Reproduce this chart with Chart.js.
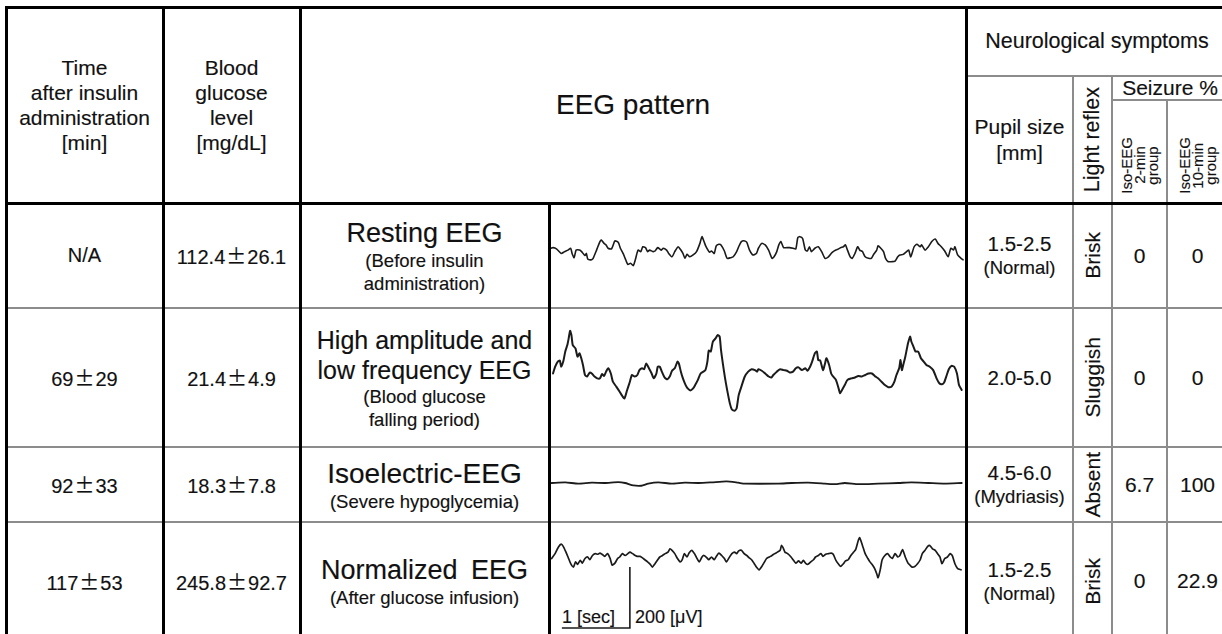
<!DOCTYPE html>
<html>
<head>
<meta charset="utf-8">
<script src="https://cdn.jsdelivr.net/npm/chart.js@4.4.1/dist/chart.umd.min.js"></script>
<style>
  body { margin: 0; width: 1222px; height: 634px; overflow: hidden; position: relative; background: #fff;
         font-family: "Liberation Sans", Arial, sans-serif; color: #111; -webkit-text-stroke: 0.15px #111; }
  .c { position: absolute; display: flex; flex-direction: column; align-items: center; justify-content: center;
       text-align: center; white-space: nowrap; }
  .ln { position: absolute; }
  .v { writing-mode: vertical-rl; transform: rotate(180deg); }
  .pm { font-family: "Noto Sans CJK JP", sans-serif; margin: 0 1px; }
  canvas { position: absolute; }
</style>
</head>
<body>
<script>
// table values
const timeAfter = ['N/A', '69±29', '92±33', '117±53'];
const glucose = ['112.4±26.1', '21.4±4.9', '18.3±7.8', '245.8±92.7'];
const eegTitles = [['Resting EEG'], ['High amplitude and', 'low frequency EEG'], ['Isoelectric-EEG'], ['Normalized EEG']];
const eegNotes = [['(Before insulin', 'administration)'], ['(Blood glucose', 'falling period)'], ['(Severe hypoglycemia)'], ['(After glucose infusion)']];
const pupilSize = ['1.5-2.5', '2.0-5.0', '4.5-6.0', '1.5-2.5'];
const pupilNote = ['(Normal)', '', '(Mydriasis)', '(Normal)'];
const lightReflex = ['Brisk', 'Sluggish', 'Absent', 'Brisk'];
const seizure2min = ['0', '0', '6.7', '0'];
const seizure10min = ['0', '0', '100', '22.9'];

// EEG traces: time [sec], amplitude [uV]
const restingT = [
  0.00,0.03,0.08,0.15,0.20,0.25,0.29,0.31,0.34,0.37, 0.42,0.45,0.50,0.52,0.54,0.59,0.62,0.67,0.72,0.74,
  0.78,0.81,0.84,0.89,0.94,0.99,1.02,1.06,1.09,1.13, 1.17,1.21,1.24,1.28,1.32,1.35,1.39,1.42,1.45,1.50,
  1.53,1.57,1.62,1.65,1.70,1.73,1.78,1.82,1.87,1.91, 1.94,1.97,2.00,2.04,2.09,2.14,2.19,2.22,2.25,2.28,
  2.33,2.36,2.40,2.43,2.47,2.50,2.55,2.59,2.64,2.68, 2.73,2.76,2.80,2.85,2.88,2.92,2.97,3.02,
  3.05,3.10,3.15,3.20,3.25,3.28,3.32,3.35,3.38,3.42, 3.47,3.51,3.56,3.60,3.63,3.66,3.70,3.74,3.77,3.80,
  3.83,3.88,3.93,3.98,4.03,4.08,4.12,4.15,4.19,4.23, 4.26,4.30,4.33,4.36,4.40,4.43,4.47,4.51,4.54,4.58,
  4.62,4.67,4.71,4.74,4.79,4.81,4.85,4.89,4.92,4.96, 5.01,5.06,5.10,5.13,5.18,5.23,5.26,5.29,5.34,5.38,
  5.43,5.45,5.50,5.55,5.60,5.65,5.69,5.74,5.79,5.84, 5.88,5.92,5.94,5.98,6.03,6.06
];
const restingUv = [
  9,11,7,-8,-2,3,9,-8,-22,3, 3,-2,-15,-8,-26,-29,-24,3,31,36,
  25,20,9,7,33,28,9,-8,-24,-44, -40,-48,-29,3,-2,14,11,-2,3,-2,
  0,11,3,9,3,-8,-19,-2,14,3, -8,-24,-11,-19,-13,-2,25,47,31,14,
  -4,0,-8,17,22,20,0,-24,-22,-19, -2,14,31,33,28,3,-13,-8,
  9,25,20,3,-24,-19,-2,20,31,11, 11,11,9,7,44,47,41,3,0,14,
  -2,9,14,-2,-24,-19,-8,-2,3,7, 11,14,20,3,-19,-24,-8,14,3,-2,
  -19,-24,-24,-13,3,17,9,-2,-24,-35, -35,-33,-19,-13,-11,-2,3,-19,14,22,
  14,20,3,14,31,39,25,14,0,-19, 9,3,14,-13,-24,-29
];

const fallingT = [
  0.03,0.06,0.10,0.13,0.15,0.18,0.21,0.24,0.26,0.28, 0.30,0.32,0.36,0.39,0.42,0.45,0.47,0.50,0.53,0.57,
  0.60,0.64,0.68,0.72,0.75,0.78,0.81,0.84,0.88,0.91, 0.96,1.01,1.04,1.08,1.12,1.16,1.19,1.23,1.27,1.30,
  1.34,1.37,1.40,1.44,1.48,1.51,1.55,1.57,1.60,1.63, 1.67,1.71,1.75,1.78,1.82,1.86,1.88,1.91,1.94,1.98,
  2.01,2.05,2.09,2.12,2.16,2.20,2.24,2.27,2.30,2.32, 2.35,2.38,2.42,2.45,2.48,2.50,2.53,2.56,2.59,2.63,
  2.66,2.70,2.73,2.76,2.80,2.85,2.90,2.95,3.00,3.03,
  3.05,3.10,3.15,3.20,3.24,3.27,3.32,3.37,3.42,3.47, 3.51,3.56,3.60,3.64,3.69,3.74,3.77,3.81,3.84,3.88,
  3.91,3.93,3.96,4.00,4.03,4.05,4.09,4.12,4.15,4.19, 4.23,4.25,4.28,4.32,4.36,4.42,4.47,4.52,4.57,4.62,
  4.67,4.72,4.76,4.81,4.86,4.91,4.96,5.01,5.05,5.08, 5.12,5.14,5.16,5.18,5.21,5.23,5.25,5.28,5.30,5.33,
  5.36,5.40,5.44,5.48,5.52,5.57,5.62,5.67,5.71,5.75, 5.78,5.82,5.85,5.89,5.93,5.97,6.00,6.04
];
const fallingUv = [
  5,27,44,47,27,44,77,98,120,145, 131,98,87,60,71,51,33,0,-5,8,
  5,-5,-11,-11,3,-3,11,22,5,-22, -38,-55,-66,-77,-49,-22,0,-5,0,16,
  22,19,38,22,5,-11,5,27,27,11, -8,-14,-3,14,22,44,38,11,-11,-33,
  -44,-51,-44,-33,-16,5,11,16,44,80, 77,109,120,131,126,82,33,-11,-49,-93,
  -113,-117,-109,-66,-38,-5,11,19,16,11,
  19,14,5,-5,-8,0,11,19,16,14, 8,11,22,25,16,22,14,27,44,71,
  77,49,47,16,38,55,33,5,-5,-16, -44,-60,-49,-33,-16,-11,-8,-3,-5,0,
  5,5,-3,-11,-22,-33,-40,-38,-22,0, 22,49,16,33,60,82,104,126,109,93,
  77,77,55,44,33,27,16,-11,-27,-30, -25,0,19,30,27,5,-33,-49
];

const isoT = [0.01,0.21,0.40,0.60,0.79,0.99,1.09,1.21,1.33,1.43,1.58,1.77,1.97,2.17,2.36,2.58,
  2.75,2.85,3.34,3.54,3.78,4.03,4.18,4.32,4.52,4.81,5.11,5.30,5.55,5.79,6.04];
const isoUv = [0,2,-2,1,0,3,0,-8,-9,-2,2,-2,1,0,2,5,1,-2,-2,0,1,-2,-4,0,-4,-2,0,2,0,-2,0];

const normT = [
  0.01,0.06,0.11,0.15,0.18,0.22,0.25,0.29,0.33,0.36, 0.39,0.43,0.46,0.50,0.54,0.57,0.61,0.65,0.69,0.72,
  0.75,0.79,0.83,0.87,0.90,0.94,0.98,1.01,1.05,1.09, 1.13,1.16,1.20,1.24,1.27,1.31,1.34,1.38,1.42,1.46,
  1.49,1.53,1.57,1.60,1.64,1.68,1.72,1.75,1.78,1.82, 1.86,1.90,1.93,1.96,2.00,2.03,2.07,2.11,2.14,2.18,
  2.22,2.25,2.29,2.32,2.36,2.40,2.44,2.47,2.51,2.55, 2.58,2.62,2.66,2.70,2.73,2.76,2.80,2.84,2.88,2.91,
  2.95,2.99,3.02,3.06,3.10,3.14,3.17,3.21,3.25,3.29, 3.33,3.37,3.39,3.42,3.44,3.48,3.53,3.56,3.60,3.64,
  3.68,3.71,3.75,3.78,3.82,3.86,3.89,3.93,3.97,4.00, 4.04,4.08,4.12,4.15,4.19,4.23,4.26,4.30,4.33,4.37,
  4.41,4.45,4.48,4.52,4.54,4.58,4.62,4.66,4.69,4.73, 4.76,4.79,4.81,4.84,4.87,4.91,4.95,4.99,5.02,5.06,
  5.10,5.13,5.17,5.21,5.25,5.28,5.31,5.35,5.39,5.43, 5.46,5.50,5.54,5.57,5.61,5.65,5.69,5.72,5.75,5.79,
  5.83,5.87,5.90,5.94,5.98,6.03
];
const normUv = [
  -5,11,33,42,35,16,0,-22,-33,-16, -24,-11,-20,-5,0,-9,5,11,9,13,
  9,2,11,-5,-27,-20,-5,0,11,5, 11,16,11,5,2,2,-2,-9,-16,-24,
  -33,-22,-9,0,5,11,16,27,22,11, -5,-16,-9,11,0,13,22,11,-2,-16,
  0,5,-2,-9,0,-9,5,13,5,-5, -16,-2,11,16,11,20,22,11,5,-2,
  -9,-22,-33,-42,-31,-16,-5,0,5,11, 16,22,38,27,16,11,0,-9,-20,-13,
  -20,-11,-22,-24,-16,-9,0,5,11,2, 9,11,13,9,-11,-24,-31,-22,-13,-9,
  5,16,24,55,63,38,11,-5,-16,-27, -38,-55,-68,-44,-9,5,11,0,-5,11,
  0,5,24,0,-20,-27,-33,-31,-22,-9, 11,22,35,38,27,22,9,0,-22,-5,
  0,11,5,-22,-38,-42
];

// calibration bar
const barSec = 1;
const barUv = 200;

// ---- layout ----
const colX = [6, 163, 300, 549, 966, 1073, 1112, 1167, 1228];
const rowY = [203, 308, 447, 522, 640];
const TOP = 7, NEURO_Y = 76, SEIZ_Y = 100;
const PX_PER_SEC = 68;
const UV_PER_PX = 200 / 61;

function el(cls, css, html) {
  const d = document.createElement('div');
  d.className = cls;
  d.style.cssText = css;
  if (html !== undefined) d.innerHTML = html;
  document.body.appendChild(d);
  return d;
}
function cell(x0, x1, y0, y1, html, css) {
  return el('c', `left:${x0}px;top:${y0}px;width:${x1 - x0}px;height:${y1 - y0}px;${css || ''}`, html);
}
function hline(x0, x1, y, w, col) {
  el('ln', `left:${x0 - w / 2}px;top:${y - w / 2}px;width:${x1 - x0 + w}px;height:${w}px;background:${col}`);
}
function vline(x, y0, y1, w, col) {
  el('ln', `left:${x - w / 2}px;top:${y0 - w / 2}px;width:${w}px;height:${y1 - y0 + w}px;background:${col}`);
}
// wide plus-minus sign, as in the original
const pm = s => '<div>' + s.replace('±', '<span class="pm">±</span>') + '</div>';

// header
cell(colX[0], colX[1], TOP, rowY[0], 'Time<br>after insulin<br>administration<br>[min]', 'font-size:21px;line-height:25px');
cell(colX[1], colX[2], TOP, rowY[0], 'Blood<br>glucose<br>level<br>[mg/dL]', 'font-size:21px;line-height:25px');
cell(colX[2], colX[4], TOP, rowY[0], 'EEG pattern', 'font-size:28px');
cell(colX[4], colX[8], TOP, NEURO_Y, 'Neurological symptoms', 'font-size:21.5px');
cell(colX[4], colX[5], NEURO_Y, rowY[0], 'Pupil size<br>[mm]', 'font-size:21px;line-height:26px');
cell(colX[5], colX[6], NEURO_Y, rowY[0], '<span class="v">Light reflex</span>', 'font-size:21.5px');
cell(colX[6], colX[8], NEURO_Y, SEIZ_Y, 'Seizure %', 'font-size:21px');
cell(colX[6], colX[7], 128, 203, '<span class="v">Iso-EEG<br>2-min<br>group</span>', 'font-size:15px;line-height:13px');
cell(colX[7], colX[8], 128, 203, '<span class="v">Iso-EEG<br>10-min<br>group</span>', 'font-size:15px;line-height:13px');

// body rows
const titleSize = [27, 25, 28, 27];
for (let i = 0; i < 4; i++) {
  const y0 = rowY[i], y1 = rowY[i + 1];
  cell(colX[0], colX[1], y0, y1, pm(timeAfter[i]), 'font-size:20px');
  cell(colX[1], colX[2], y0, y1, pm(glucose[i]), 'font-size:20px');
  const t = eegTitles[i].map(s => `<div style="font-size:${titleSize[i]}px;line-height:${titleSize[i] + 5}px;word-spacing:${i === 3 ? 6 : 0}px">${s}</div>`).join('');
  const n = eegNotes[i].map(s => `<div style="font-size:18.5px;line-height:23px">${s}</div>`).join('');
  cell(colX[2], colX[3], y0, y1, t + n);
  let p = `<div style="font-size:20.5px;line-height:24px">${pupilSize[i]}</div>`;
  if (pupilNote[i]) p += `<div style="font-size:18.5px;line-height:23px">${pupilNote[i]}</div>`;
  cell(colX[4], colX[5], y0, y1, p);
  cell(colX[5], colX[6], y0, y1, `<span class="v">${lightReflex[i]}</span>`, 'font-size:21px');
  cell(colX[6], colX[7], y0, y1, seizure2min[i], 'font-size:21px');
  cell(colX[7], colX[8], y0, y1, seizure10min[i], 'font-size:21px');
}

// grid lines
const BLACK = '#000', GRAY = '#8c8c8c';
rowY.slice(1, 4).forEach(y => hline(colX[0], colX[8], y, 2, GRAY));
hline(colX[4], colX[8], NEURO_Y, 2, GRAY);
hline(colX[6], colX[8], SEIZ_Y, 2, GRAY);
vline(colX[5], NEURO_Y, 640, 2, GRAY);
vline(colX[6], NEURO_Y, 640, 2, GRAY);
vline(colX[7], SEIZ_Y, 640, 2, GRAY);
hline(colX[0], colX[8], TOP, 3, BLACK);
hline(colX[0], colX[8], rowY[0], 3, BLACK);
[colX[0], colX[1], colX[2], colX[4]].forEach(x => vline(x, TOP, 640, 3, BLACK));
vline(colX[3], rowY[0], 640, 3, BLACK);

// scale bar labels
el('ln', 'left:562px;top:606px;font-size:18px;line-height:22px', '1 [sec]');
el('ln', 'left:635px;top:606px;font-size:18px;line-height:22px', '200 [μV]');

// ---- EEG traces ----
const TRACE_LEFT = 551, TRACE_W = 413;
function trace(ts, uvs, top, height, baseline, width, extra) {
  const cv = document.createElement('canvas');
  cv.width = TRACE_W; cv.height = height;
  cv.style.left = TRACE_LEFT + 'px'; cv.style.top = top + 'px';
  document.body.appendChild(cv);
  const datasets = [{
    data: ts.map((t, k) => ({ x: t, y: uvs[k] })),
    borderColor: '#1b1b1b', borderWidth: width, pointRadius: 0, tension: 0.2,
    borderJoinStyle: 'round', borderCapStyle: 'round'
  }];
  if (extra) datasets.push(extra);
  new Chart(cv, {
    type: 'line',
    data: { datasets },
    options: {
      responsive: false, animation: false, devicePixelRatio: 1,
      layout: { padding: 0 },
      plugins: { legend: { display: false }, tooltip: { enabled: false } },
      scales: {
        x: { type: 'linear', display: false, min: 0, max: TRACE_W / PX_PER_SEC },
        y: { display: false, min: -(top + height - baseline) * UV_PER_PX, max: (baseline - top) * UV_PER_PX }
      }
    }
  });
}

trace(restingT, restingUv, 206, 100, 251, 1.6);
trace(fallingT, fallingUv, 310, 135, 375, 2);
trace(isoT, isoUv, 449, 72, 483, 1.8);

const barT0 = 0.16, barBottom = -233;
trace(normT, normUv, 524, 110, 557, 1.7, {
  data: [
    { x: barT0, y: barBottom },
    { x: barT0 + barSec, y: barBottom },
    { x: barT0 + barSec, y: barBottom + barUv }
  ],
  borderColor: '#1b1b1b', borderWidth: 1.6, pointRadius: 0, tension: 0
});
</script>
</body>
</html>
